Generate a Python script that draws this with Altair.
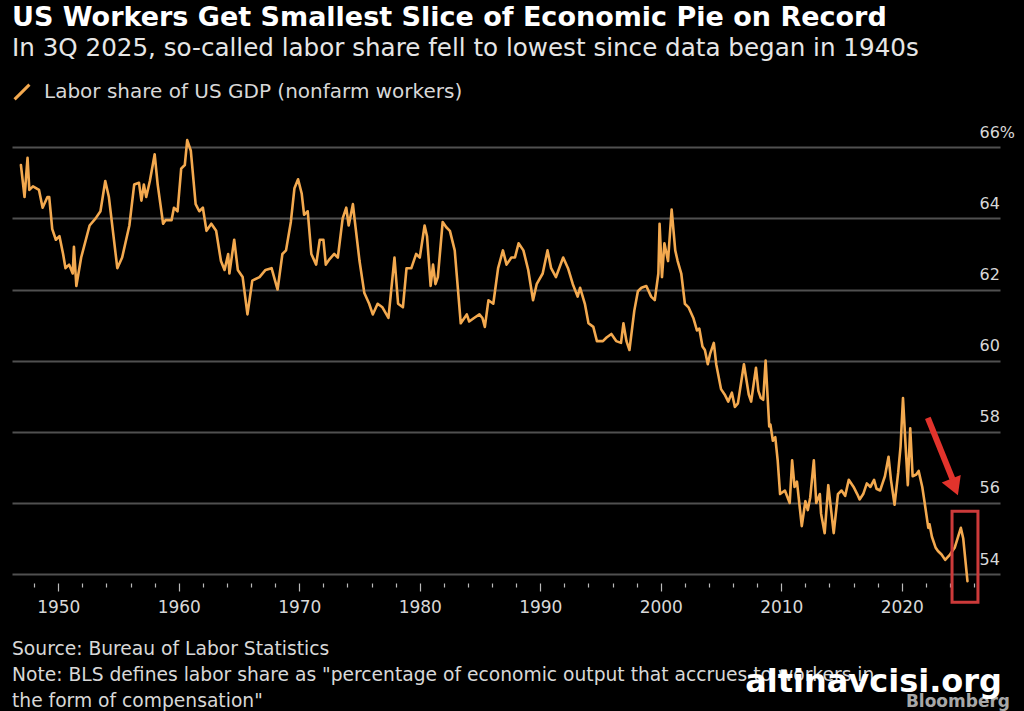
import altair as alt
import pandas as pd

# ---------------- data ----------------
years = [
    1946.9, 1947.2, 1947.45, 1947.6, 1947.9, 1948.4, 1948.7, 1949.1, 1949.25, 1949.5,
    1949.8, 1950.1, 1950.4, 1950.6, 1950.9, 1951.2, 1951.3, 1951.5, 1951.9, 1952.6,
    1953.1, 1953.5, 1953.9, 1954.2, 1954.9, 1955.3, 1955.9, 1956.3, 1956.7, 1956.9,
    1957.1, 1957.3, 1957.6, 1958.0, 1958.25, 1958.7, 1958.9, 1959.4, 1959.6, 1959.9,
    1960.2, 1960.5, 1960.7, 1961.0, 1961.4, 1961.7, 1962.0, 1962.3, 1962.7, 1963.1,
    1963.5, 1963.8, 1964.1, 1964.2, 1964.6, 1964.9, 1965.3, 1965.7, 1966.1, 1966.7,
    1967.2, 1967.7, 1968.2, 1968.6, 1968.9, 1969.3, 1969.6, 1969.9, 1970.2, 1970.4,
    1970.7, 1971.0, 1971.4, 1971.7, 1972.0, 1972.2, 1972.5, 1972.9, 1973.2, 1973.6,
    1973.9, 1974.1, 1974.45, 1974.6, 1975.0, 1975.4, 1975.8, 1976.1, 1976.5, 1976.9,
    1977.4, 1977.9, 1978.2, 1978.6, 1978.9, 1979.3, 1979.7, 1980.0, 1980.4, 1980.6,
    1980.9, 1981.1, 1981.3, 1981.5, 1981.9, 1982.2, 1982.5, 1982.9, 1983.4, 1983.9,
    1984.1, 1984.5, 1984.95, 1985.2, 1985.4, 1985.7, 1986.1, 1986.5, 1986.9, 1987.2,
    1987.6, 1987.9, 1988.2, 1988.6, 1989.0, 1989.4, 1989.7, 1990.2, 1990.6, 1990.9,
    1991.3, 1991.9, 1992.3, 1992.7, 1993.1, 1993.3, 1993.7, 1994.0, 1994.4, 1994.7,
    1995.2, 1995.5, 1995.9, 1996.3, 1996.7, 1996.9, 1997.15, 1997.4, 1997.8, 1998.1,
    1998.4, 1998.8, 1999.2, 1999.5, 1999.8, 1999.9, 2000.1, 2000.3, 2000.6, 2000.9,
    2001.2, 2001.4, 2001.7, 2002.0, 2002.3, 2002.7, 2003.0, 2003.2, 2003.46, 2003.66,
    2003.9, 2004.1, 2004.4, 2004.6, 2005.0, 2005.3, 2005.6, 2005.9, 2006.15, 2006.4,
    2006.9, 2007.3, 2007.5, 2007.9, 2008.1, 2008.3, 2008.5, 2008.7, 2009.0, 2009.1,
    2009.3, 2009.5, 2009.7, 2009.9, 2010.3, 2010.7, 2010.9, 2011.1, 2011.3, 2011.7,
    2012.0, 2012.2, 2012.4, 2012.7, 2012.9, 2013.2, 2013.3, 2013.6, 2013.9, 2014.1,
    2014.35, 2014.7, 2015.0, 2015.3, 2015.6, 2016.0, 2016.3, 2016.5, 2016.8, 2017.1,
    2017.4, 2017.7, 2017.9, 2018.2, 2018.4, 2018.6, 2018.9, 2019.1, 2019.4, 2019.7,
    2019.9, 2020.1, 2020.35, 2020.5, 2020.7, 2020.9, 2021.2, 2021.4, 2021.7, 2021.9,
    2022.2, 2022.3, 2022.5, 2022.8, 2023.0, 2023.3, 2023.6, 2024.0, 2024.4, 2024.9,
    2025.1, 2025.45,
]
share = [
    65.5, 64.6, 65.7, 64.8, 64.9, 64.8, 64.3, 64.6, 64.6, 63.7,
    63.4, 63.5, 63.0, 62.6, 62.7, 62.45, 63.2, 62.1, 62.9, 63.8,
    64.0, 64.2, 65.05, 64.6, 62.6, 62.9, 63.8, 64.95, 65.0, 64.5,
    64.95, 64.6, 65.05, 65.8, 64.95, 63.85, 63.95, 63.95, 64.3, 64.2,
    65.4, 65.5, 66.2, 65.9, 64.4, 64.2, 64.3, 63.65, 63.85, 63.65,
    62.8, 62.55, 63.0, 62.45, 63.4, 62.55, 62.35, 61.3, 62.25, 62.35,
    62.55, 62.6, 62.0, 63.0, 63.1, 63.9, 64.85, 65.1, 64.7, 64.1,
    64.2, 63.0, 62.7, 63.4, 63.4, 62.7, 62.85, 63.0, 62.9, 64.0,
    64.3, 63.8, 64.4, 63.95, 62.8, 61.9, 61.6, 61.3, 61.6, 61.5,
    61.2, 62.9, 61.6, 61.5, 62.6, 62.6, 63.0, 62.9, 63.8, 63.5,
    62.1, 62.7, 62.15, 62.35, 63.9, 63.75, 63.65, 63.1, 61.05, 61.3,
    61.1, 61.2, 61.3, 61.2, 60.95, 61.7, 61.6, 62.6, 63.1, 62.7,
    62.9, 62.9, 63.3, 63.1, 62.55, 61.7, 62.15, 62.45, 63.1, 62.6,
    62.35, 62.9, 62.6, 62.15, 61.8, 62.05, 61.6, 61.05, 60.95, 60.55,
    60.55, 60.65, 60.75, 60.55, 60.5, 61.05, 60.55, 60.3, 61.4, 61.95,
    62.05, 62.1, 61.8, 61.7, 62.45, 63.85, 62.35, 63.3, 62.8, 64.25,
    63.1, 62.8, 62.45, 61.6, 61.5, 61.2, 60.85, 60.9, 60.4, 60.3,
    59.9, 60.2, 60.5, 59.9, 59.2, 59.05, 58.85, 59.1, 58.7, 58.8,
    59.9, 59.05, 58.85, 59.8, 59.15, 58.95, 58.9, 60.0, 58.15, 58.2,
    57.75, 57.85, 57.2, 56.25, 56.35, 56.0, 57.2, 56.45, 56.6, 55.35,
    56.05, 55.8, 56.15, 57.2, 56.0, 56.25, 55.7, 55.15, 56.5, 55.9,
    55.15, 56.25, 56.35, 56.2, 56.65, 56.45, 56.25, 56.1, 56.25, 56.55,
    56.45, 56.65, 56.4, 56.35, 56.55, 56.75, 57.3, 56.65, 55.95, 56.85,
    57.6, 58.95, 57.4, 56.5, 58.1, 56.75, 56.8, 56.9, 56.45, 56.0,
    55.3, 55.4, 55.05, 54.75, 54.65, 54.55, 54.4, 54.55, 54.75, 55.3,
    55.0, 53.8,
]

x_tick_values = list(range(1948, 2027, 2))
y_tick_values = [54, 56, 58, 60, 62, 64, 66]

title_text = "US Workers Get Smallest Slice of Economic Pie on Record"
subtitle_text = "In 3Q 2025, so-called labor share fell to lowest since data began in 1940s"
series_name = "Labor share of US GDP (nonfarm workers)"
footer_lines = [
    "Source: Bureau of Labor Statistics",
    'Note: BLS defines labor share as "percentage of economic output that accrues to workers in',
    'the form of compensation"',
]
brand_text = "Bloomberg"
watermark_text = "altinavcisi.org"

# annotation (red box around the latest reading, red arrow pointing at it)
box_years = [2024.17, 2026.32]
box_values = [55.77, 53.21]
arrow_years = [2022.16, 2024.2]
arrow_values = [58.39, 56.68]
arrow_head_year = [2024.38]
arrow_head_value = [56.45]

# ---------------- styling ----------------
FONT = "DejaVu Sans"
ORANGE = "#F3A94F"
RED = "#E2332C"
BOX_RED = "#CC3A3A"
GRID = "#505050"
TXT = "#D8D8D8"

X_DOMAIN = [1946.16, 2028.15]
Y_DOMAIN = [53.75, 66.4]

xscale = alt.Scale(domain=X_DOMAIN, nice=False, zero=False)
yscale = alt.Scale(domain=Y_DOMAIN, nice=False, zero=False)

df = pd.DataFrame({"year": years, "share": share, "series": series_name})

line = alt.Chart(df).mark_line(strokeWidth=2.6, strokeJoin="round", strokeCap="round").encode(
    x=alt.X(
        "year:Q",
        scale=xscale,
        title=None,
        axis=alt.Axis(
            values=x_tick_values,
            tickCount=200,
            format="d",
            labelExpr="datum.value % 10 === 0 ? datum.label : ''",
            grid=False,
            domain=False,
            ticks=True,
            tickColor="#BBBBBB",
            tickWidth=1.2,
            tickSize={"condition": {"test": "datum.value % 10 === 0", "value": 8}, "value": 4},
            labelPadding=8,
            labelFont=FONT,
            labelFontSize=17,
            labelColor=TXT,
            labelFlush=False,
            labelOverlap=False,
            labelBaseline="top",
        ),
    ),
    y=alt.Y(
        "share:Q",
        scale=yscale,
        title=None,
        axis=alt.Axis(
            orient="right",
            values=y_tick_values,
            tickCount=20,
            labelExpr="datum.value === 66 ? datum.value + '%' : datum.value",
            grid=True,
            gridColor=GRID,
            gridWidth=2,
            domain=False,
            ticks=False,
            labelAlign="left",
            labelPadding=-21,
            labelBaseline="middle",
            labelOffset=-15,
            labelFont=FONT,
            labelFontSize=16,
            labelColor=TXT,
        ),
    ),
    color=alt.Color(
        "series:N",
        scale=alt.Scale(range=[ORANGE]),
        legend=alt.Legend(
            title=None,
            orient="none",
            legendX=0,
            legendY=-51,
            symbolType="M-1,1L1,-1",
            symbolSize=220,
            symbolStrokeWidth=3,
            labelFont=FONT,
            labelFontSize=20,
            labelColor=TXT,
            labelOffset=12,
            labelLimit=0,
            padding=0,
        ),
    ),
)

box_df = pd.DataFrame({"x": [box_years[0]], "x2": [box_years[1]], "y": [box_values[0]], "y2": [box_values[1]]})
box = alt.Chart(box_df).mark_rect(fill=None, stroke=BOX_RED, strokeWidth=3, clip=False).encode(
    x=alt.X("x:Q", scale=xscale), x2="x2:Q", y=alt.Y("y:Q", scale=yscale), y2="y2:Q"
)

arrow_df = pd.DataFrame({"x": [arrow_years[0]], "x2": [arrow_years[1]], "y": [arrow_values[0]], "y2": [arrow_values[1]]})
arrow = alt.Chart(arrow_df).mark_rule(stroke=RED, strokeWidth=6, strokeCap="butt").encode(
    x=alt.X("x:Q", scale=xscale), x2="x2:Q", y=alt.Y("y:Q", scale=yscale), y2="y2:Q"
)
head_df = pd.DataFrame({"x": arrow_head_year, "y": arrow_head_value})
head = alt.Chart(head_df).mark_point(
    shape="triangle-down", filled=True, fill=RED, stroke=None, size=420, angle=338, opacity=1
).encode(x=alt.X("x:Q", scale=xscale), y=alt.Y("y:Q", scale=yscale))

footer = alt.Chart(pd.DataFrame({"t": ["\n".join(footer_lines)]})).mark_text(
    align="left", baseline="top", font=FONT, fontSize=18.7, color=TXT, lineBreak="\n", lineHeight=26
).encode(x=alt.value(0), y=alt.value(507), text="t:N")

brand = alt.Chart(pd.DataFrame({"t": [brand_text]})).mark_text(
    align="right", baseline="middle", font=FONT, fontSize=17, fontWeight="bold", color="#A8A8A8"
).encode(x=alt.value(998), y=alt.value(569), text="t:N")

watermark = alt.Chart(pd.DataFrame({"t": [watermark_text]})).mark_text(
    align="right", baseline="middle", font=FONT, fontSize=32, fontWeight="bold", color="#FFFFFF"
).encode(x=alt.value(990), y=alt.value(549), text="t:N")

chart = alt.layer(line, box, arrow, head, footer, brand, watermark).properties(
    width=988,
    height=450,
    background="#000000",
    padding={"left": 12, "top": 133, "right": 24, "bottom": 128},
    autosize=alt.AutoSizeParams(type="none"),
    title=alt.TitleParams(
        text=title_text,
        subtitle=subtitle_text,
        anchor="start",
        font=FONT,
        fontSize=27,
        fontWeight="bold",
        color="#FFFFFF",
        subtitleFont=FONT,
        subtitleFontSize=24.6,
        subtitleColor="#E6E6E6",
        subtitlePadding=5,
        offset=20,
    ),
).configure_view(strokeWidth=0)

chart.save("out.html", embed_options={"renderer": "svg", "actions": False})
